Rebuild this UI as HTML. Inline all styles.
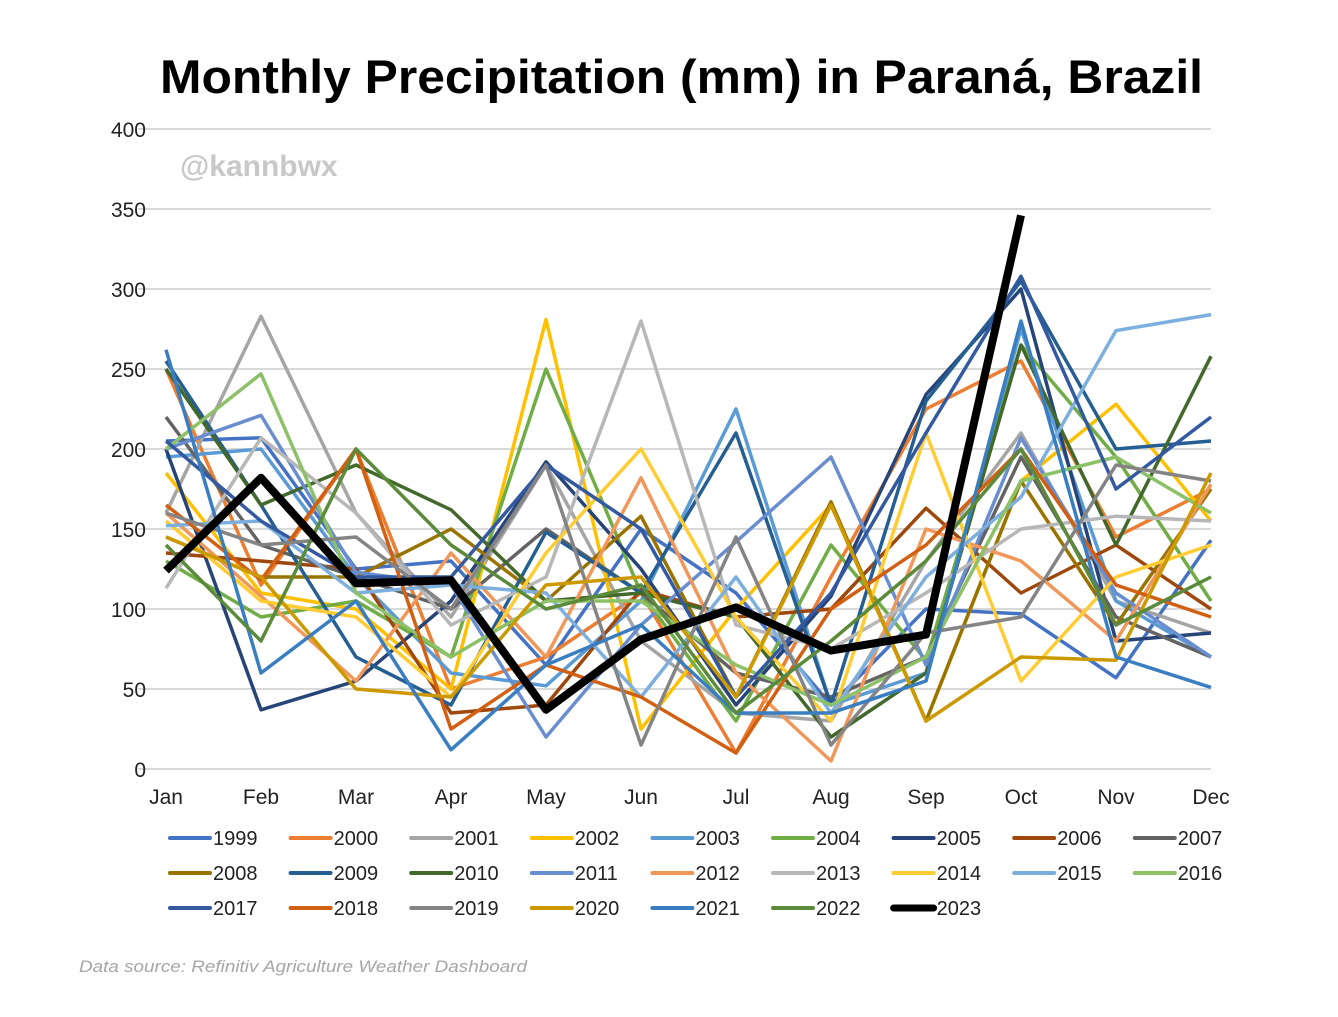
<!DOCTYPE html>
<html><head><meta charset="utf-8"><style>
body{margin:0;background:#fff;width:1338px;height:1012px;overflow:hidden;font-family:"Liberation Sans",Arial,sans-serif}
</style></head><body>
<svg id="c" width="1338" height="1012" xmlns="http://www.w3.org/2000/svg"></svg>
<script>
const months=["Jan","Feb","Mar","Apr","May","Jun","Jul","Aug","Sep","Oct","Nov","Dec"];
const years=["1999","2000","2001","2002","2003","2004","2005","2006","2007","2008","2009","2010","2011","2012","2013","2014","2015","2016","2017","2018","2019","2020","2021","2022","2023"];
const colors=["#4472C4","#ED7D31","#A5A5A5","#FFC000","#5B9BD5","#70AD47","#264478","#9E480E","#636363","#997300","#255E91","#43682B","#698ED0","#F1975A","#B7B7B7","#FFCD33","#7CAFDD","#8CC168","#335AA1","#D26012","#848484","#CC9A00","#3A7EC2","#5A8A3A","#000000"];
const yTicks=[0,50,100,150,200,250,300,350,400];
const s1999=[205,207,125,130,65,150,110,40,100,97,57,143];
const s2000=[250,115,200,50,70,110,10,120,225,255,145,175];
const s2001=[160,283,160,95,190,80,35,30,130,210,105,85];
const s2002=[185,110,100,50,281,25,100,165,30,180,228,155];
const s2003=[195,200,120,60,52,105,225,40,60,275,105,70];
const s2004=[130,95,105,70,250,110,30,140,68,265,195,105];
const s2005=[200,37,55,105,192,125,40,108,234,300,80,85];
const s2006=[135,130,125,35,40,112,95,100,163,110,140,100];
const s2007=[220,140,120,100,150,110,60,45,70,195,95,70];
const s2008=[145,120,120,150,105,158,45,167,30,180,90,175];
const s2009=[255,165,70,40,148,110,210,40,230,305,200,205];
const s2010=[250,165,190,162,105,110,95,20,60,265,140,258];
const s2011=[200,221,123,115,20,90,142,195,65,207,110,70];
const s2012=[160,108,55,135,70,182,60,5,150,130,80,178];
const s2013=[113,207,160,90,120,280,90,75,110,150,158,155];
const s2014=[155,105,95,45,135,200,95,30,210,55,120,140];
const s2015=[152,155,110,115,110,45,120,35,120,170,274,284];
const s2016=[200,247,110,70,105,105,65,40,70,180,195,160];
const s2017=[205,155,120,120,190,150,45,110,210,308,175,220];
const s2018=[165,118,200,25,65,45,10,100,140,200,115,95];
const s2019=[160,140,145,100,190,15,145,15,85,95,190,180];
const s2020=[145,120,50,45,115,120,45,165,30,70,68,185];
const s2021=[262,60,105,12,65,90,35,35,55,280,70,51];
const s2022=[140,80,200,140,100,115,35,80,130,200,90,120];
const s2023=[124,182,116,118,37,81,101,74,84,346];
const series=[s1999,s2000,s2001,s2002,s2003,s2004,s2005,s2006,s2007,s2008,s2009,s2010,s2011,s2012,s2013,s2014,s2015,s2016,s2017,s2018,s2019,s2020,s2021,s2022,s2023];

const svg=document.getElementById('c');const NS="http://www.w3.org/2000/svg";
const X0=166,X1=1211,Y0=769,Y1=129;
const xs=i=>X0+i*(X1-X0)/11;
const ys=v=>Y0-v*(Y0-Y1)/400;
function mk(t,a,txt){const e=document.createElementNS(NS,t);for(const k in a)e.setAttribute(k,a[k]);if(txt!==undefined)e.textContent=txt;svg.appendChild(e);return e;}
let e=mk('text',{x:160,y:93,'font-size':47,'font-weight':'bold',fill:'#000',textLength:1043,lengthAdjust:'spacingAndGlyphs'},'Monthly Precipitation (mm) in Paraná, Brazil');


e=mk('text',{x:180,y:176,'font-size':30,'font-weight':'bold',fill:'#c8c8c8'},'@kannbwx');


yTicks.forEach(v=>{
  e=mk('line',{x1:138,x2:X1,y1:ys(v),y2:ys(v),stroke:'#d9d9d9','stroke-width':2});
  
  
  e=mk('text',{x:146,y:ys(v)+8,'text-anchor':'end','font-size':21,fill:'#222'},String(v));
  
  
});
months.forEach((m,i)=>{
  e=mk('text',{x:xs(i),y:804,'text-anchor':'middle','font-size':21,fill:'#222'},m);
  
  
});
series.forEach((s,k)=>{
  const pts=s.map((v,i)=>xs(i)+','+ys(v)).join(' ');
  e=mk('polyline',{points:pts,fill:'none',stroke:colors[k],'stroke-width':k==24?8:3.5,'stroke-linejoin':'round'});
  
  
});
years.forEach((y,k)=>{
  const col=k%9,row=Math.floor(k/9);
  const lx=170+col*120.6,ly=838+row*35;
  const g=document.createElementNS(NS,'g');svg.appendChild(g);
  
  
  const l=document.createElementNS(NS,'line');
  l.setAttribute('x1',lx);l.setAttribute('x2',lx+40);l.setAttribute('y1',ly);l.setAttribute('y2',ly);
  l.setAttribute('stroke',colors[k]);l.setAttribute('stroke-width',k==24?7:4);l.setAttribute('stroke-linecap','round');
  g.appendChild(l);
  const t=document.createElementNS(NS,'text');
  t.setAttribute('x',lx+43);t.setAttribute('y',ly+7);t.setAttribute('font-size',20);t.setAttribute('fill','#222');
  t.textContent=y;g.appendChild(t);
});
e=mk('text',{x:79,y:972,'font-size':17,'font-style':'italic',fill:'#a6a6a6',textLength:448,lengthAdjust:'spacingAndGlyphs'},'Data source: Refinitiv Agriculture Weather Dashboard');


</script>
</body></html>
